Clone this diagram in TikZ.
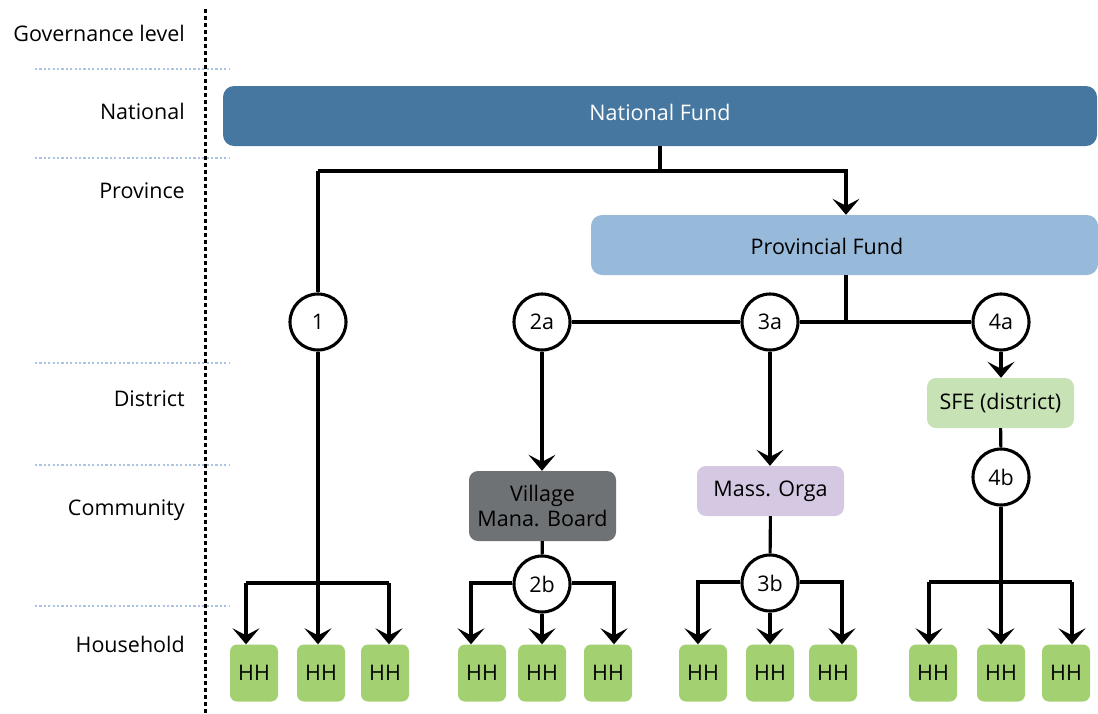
\documentclass[tikz,border=0pt]{standalone}
\usepackage{fontspec}
\setmainfont{Open Sans}
\usetikzlibrary{arrows.meta}
\definecolor{natblue}{HTML}{4677A0}
\definecolor{provblue}{HTML}{97B9DA}
\definecolor{vmbgray}{HTML}{6E7275}
\definecolor{masslil}{HTML}{D5C8E3}
\definecolor{sfegreen}{HTML}{C7E3B6}
\definecolor{hhgreen}{HTML}{A3D172}
\definecolor{sepblue}{HTML}{A9C4E4}
\begin{document}
\begin{tikzpicture}[x=1pt,y=-1pt,
  txt/.style={font=\fontsize{21.5}{27}\selectfont},
  lvl/.style={txt, anchor=east, inner sep=0pt},
  conn/.style={line width=3.1pt, draw=black},
  arr/.style={conn, -{Stealth[length=16pt,width=27pt,inset=7pt]}},
  numc/.style={circle, draw=black, line width=3.1pt, fill=white, minimum size=56pt, inner sep=0pt, txt},
  bigbox/.style={rounded corners=11pt, inner sep=0pt, txt},
  midbox/.style={rounded corners=9pt, inner sep=0pt, minimum width=147pt, txt, align=center},
  hhbox/.style={rounded corners=7pt, fill=hhgreen, minimum width=48pt, minimum height=57pt, inner sep=0pt, txt},
  sep/.style={draw=sepblue, line width=2.2pt, dash pattern=on 2.2pt off 2.2pt},
  axis/.style={draw=black, line width=3pt, dash pattern=on 4.3pt off 2.7pt}
]
\useasboundingbox (0,0) rectangle (1098,713);

% separators and axis
\coordinate (s1a) at (35,69);  \coordinate (s1b) at (230,69);
\coordinate (s2a) at (35,158); \coordinate (s2b) at (230,158);
\coordinate (s3a) at (35,363); \coordinate (s3b) at (230,363);
\coordinate (s4a) at (35,465); \coordinate (s4b) at (230,465);
\coordinate (s5a) at (35,606); \coordinate (s5b) at (230,606);
\draw[sep] (s1a) -- (s1b);
\draw[sep] (s2a) -- (s2b);
\draw[sep] (s3a) -- (s3b);
\draw[sep] (s4a) -- (s4b);
\draw[sep] (s5a) -- (s5b);
\coordinate (axt) at (205,9);
\coordinate (axb) at (205,713);
\draw[axis] (axt) -- (axb);

% level labels
\node[lvl] (lgov) at (185,33) {Governance level};
\node[lvl] (lnat) at (185,111) {National};
\node[lvl] (lpro) at (185,191) {Province};
\node[lvl] (ldis) at (185,399) {District};
\node[lvl] (lcom) at (185,510) {Community};
\node[lvl] (lhh)  at (185,644) {Household};

% funds
\node[bigbox, fill=natblue, minimum width=874pt, minimum height=60pt] (nf) at (660,116) {};
\node[txt, text=white, inner sep=0pt] (nflab) at (660,112) {National Fund};
\node[bigbox, fill=provblue, minimum width=507pt, minimum height=60pt] (pf) at (844.5,245) {};
\node[txt, inner sep=0pt] (pflab) at (827,246) {Provincial Fund};

% intermediate boxes
\node[midbox, fill=vmbgray, minimum height=70pt] (vmb) at (542.5,506) {Village\\[-2pt]Mana. Board};
\node[midbox, fill=masslil, minimum height=50pt] (mass) at (770.5,491) {Mass. Orga};
\node[midbox, fill=sfegreen, minimum height=50pt] (sfe) at (1000.5,403) {SFE (district)};

% circles
\node[numc] (c1)  at (318,322) {1};
\node[numc] (c2a) at (542,322) {2a};
\node[numc] (c3a) at (770,322) {3a};
\node[numc] (c4a) at (1001,322) {4a};
\node[numc] (c2b) at (542,584) {2b};
\node[numc] (c3b) at (770,583) {3b};
\node[numc] (c4b) at (1001,477) {4b};

% households
\node[hhbox] (h11) at (254,673) {HH};
\node[hhbox] (h12) at (321,673) {HH};
\node[hhbox] (h13) at (385,673) {HH};
\node[hhbox] (h21) at (482,673) {HH};
\node[hhbox] (h22) at (542,673) {HH};
\node[hhbox] (h23) at (608,673) {HH};
\node[hhbox] (h31) at (703,673) {HH};
\node[hhbox] (h32) at (770,673) {HH};
\node[hhbox] (h33) at (833,673) {HH};
\node[hhbox] (h41) at (933,673) {HH};
\node[hhbox] (h42) at (1001,673) {HH};
\node[hhbox] (h43) at (1066,673) {HH};

% top connectors
\coordinate (j0) at (660,171);
\coordinate (jl) at (318,171);
\coordinate (jr) at (846,171);
\draw[conn] (nf.south) -- (j0);
\draw[arr] (jl) -- (jr) -- (jr |- pf.north);
\draw[conn] (jl) -- (c1);
\coordinate (jp) at (846,322);
\draw[conn] (pf.south -| jp) -- (jp);
\draw[conn] (c2a) -- (c3a);
\draw[conn] (c3a) -- (c4a);

% branch 1
\coordinate (a11) at (246,583);
\coordinate (a13) at (389,583);
\draw[conn] (a11) -- (a13);
\draw[arr] (c1) -- (c1 |- h12.north);
\draw[arr] (a11) -- (a11 |- h11.north);
\draw[arr] (a13) -- (a13 |- h13.north);

% branch 2
\draw[arr] (c2a) -- (c2a |- vmb.north);
\draw[conn] (vmb) -- (c2b);
\coordinate (a21) at (471,583);
\coordinate (a23) at (614,583);
\draw[arr] (c2b.west |- a21) -- (a21) -- (a21 |- h21.north);
\draw[arr] (c2b.east |- a23) -- (a23) -- (a23 |- h23.north);
\draw[arr] (c2b) -- (c2b |- h22.north);

% branch 3
\draw[arr] (c3a) -- (c3a |- mass.north);
\draw[conn] (mass) -- (c3b);
\coordinate (a31) at (698,582);
\coordinate (a33) at (842,582);
\draw[arr] (c3b.west |- a31) -- (a31) -- (a31 |- h31.north);
\draw[arr] (c3b.east |- a33) -- (a33) -- (a33 |- h33.north);
\draw[arr] (c3b) -- (c3b |- h32.north);

% branch 4
\draw[arr] (c4a) -- (c4a |- sfe.north);
\draw[conn] (sfe) -- (c4b);
\coordinate (a41) at (929,582);
\coordinate (a43) at (1072,582);
\draw[conn] (a41) -- (a43);
\draw[arr] (c4b) -- (c4b |- h42.north);
\draw[arr] (a41) -- (a41 |- h41.north);
\draw[arr] (a43) -- (a43 |- h43.north);
\end{tikzpicture}
\end{document}
